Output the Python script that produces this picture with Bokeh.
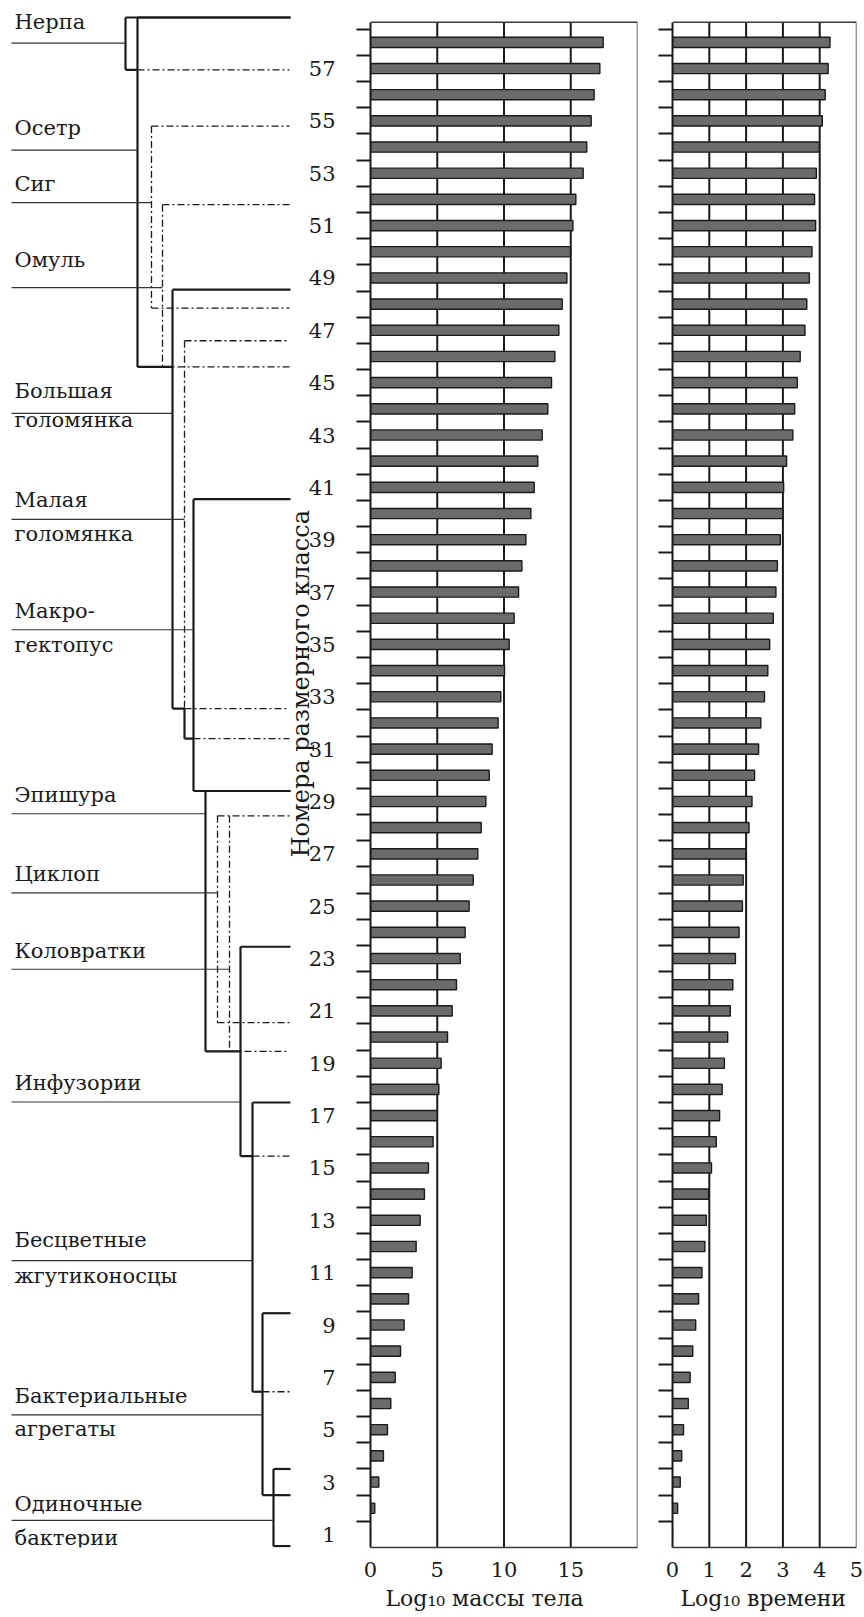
import math
from bokeh.plotting import figure
from bokeh.models import Range1d, FixedTicker, Title
from bokeh.layouts import row
from bokeh.embed import file_html
from bokeh.resources import INLINE
from bokeh.core.properties import value

# ---------------- data ----------------
size_classes = list(range(1, 59))
log_mass = [0.00, 0.32, 0.62, 0.97, 1.27, 1.52, 1.85, 2.25, 2.52, 2.85,
            3.12, 3.42, 3.72, 4.04, 4.34, 4.69, 4.99, 5.12, 5.29, 5.77,
            6.12, 6.44, 6.72, 7.09, 7.39, 7.69, 8.04, 8.29, 8.64, 8.89,
            9.11, 9.56, 9.76, 10.04, 10.39, 10.76, 11.09, 11.34, 11.64, 12.01,
            12.26, 12.53, 12.86, 13.28, 13.56, 13.81, 14.11, 14.36, 14.71, 14.98,
            15.16, 15.38, 15.93, 16.20, 16.53, 16.75, 17.18, 17.43]
log_time = [0.00, 0.14, 0.21, 0.25, 0.30, 0.43, 0.48, 0.55, 0.63, 0.71,
            0.80, 0.88, 0.92, 0.98, 1.06, 1.19, 1.28, 1.35, 1.41, 1.50,
            1.57, 1.64, 1.71, 1.81, 1.90, 1.92, 1.99, 2.08, 2.16, 2.23,
            2.34, 2.40, 2.50, 2.59, 2.64, 2.74, 2.81, 2.85, 2.93, 3.00,
            3.02, 3.10, 3.27, 3.32, 3.39, 3.47, 3.60, 3.65, 3.72, 3.79,
            3.89, 3.86, 3.91, 3.99, 4.07, 4.15, 4.23, 4.28]
class_labels = list(range(1, 58, 2))
mass_ticks = [0, 5, 10, 15]
time_ticks = [0, 1, 2, 3, 4, 5]
mass_grid = [5, 10, 15]
time_grid = [1, 2, 3, 4]

organism_line1 = ["Нерпа", "Осетр", "Сиг", "Омуль", "Большая", "Малая", "Макро-",
                  "Эпишура", "Циклоп", "Коловратки", "Инфузории", "Бесцветные",
                  "Бактериальные", "Одиночные"]
organism_line2 = ["", "", "", "", "голомянка", "голомянка", "гектопус",
                  "", "", "", "", "жгутиконосцы", "агрегаты", "бактерии"]
# size-class range of each organism (upper and lower bound, in class units)
class_top = [58.95, 58.95, 54.8, 51.8, 48.55, 46.6, 40.55,
             29.4, 28.45, 28.45, 23.45, 17.5, 9.45, 3.5]
class_bottom = [56.95, 45.6, 47.85, 45.6, 32.55, 31.4, 29.4,
                19.45, 20.55, 19.45, 15.45, 6.45, 2.5, 0.55]

mass_title = "Log₁₀ массы тела"
time_title = "Log₁₀ времени"
y_title = "Номера размерного класса"

# ---------------- layout / style ----------------
H = 1617
PANEL_TOP_PX = 21.7          # where the panel box starts (canvas px)
FRAME_BOTTOM = 1547
BOTTOM_BORDER = H - FRAME_BOTTOM
Y0, Y1 = 0.5, 58.77
PPC = (FRAME_BOTTOM - PANEL_TOP_PX) / (Y1 - Y0)
YTOP = Y1 + PANEL_TOP_PX / PPC
L_W = 350
FONT = "DejaVu Serif"
INK = "#1a1a1a"
BOX = "#3a3a3a"

bracket_x = [125, 137, 151, 162, 172, 184, 193, 205, 217, 229, 240, 252, 262, 273]
label_pos = [57.97, 53.88, 51.88, 48.63, 43.83, 39.78, 35.56,
             28.53, 25.51, 22.59, 17.52, 11.46, 5.57, 1.54]
# pixel distance of the first text line above / second line below the leader line
above_px = [21.5, 22.5, 18.5, 27.5, 22.5, 19.5, 18.5, 18.5, 18.5, 18.5, 18.5, 20.5, 18.5, 16.5]
below_px = [0, 0, 0, 0, 7, 14.5, 15.5, 0, 0, 0, 0, 15.5, 14.5, 18]
links = {0: 1, 1: 4, 4: 5, 5: 6, 7: 10, 10: 11, 11: 12}
dashed_set = {2, 3, 5, 8, 9}
solid_bottom = {6, 12, 13}
LEAD_X = 11
TEXT_X = 14
LINE_END = 290
DASH_END = 289
NUM_X = 335
YT_X, YT_Y = 300, 33.5

y_range = Range1d(Y0, YTOP)

# ---------------- left figure: dendrogram & labels ----------------
pl = figure(width=L_W, height=H, x_range=Range1d(0, L_W), y_range=y_range,
            x_axis_location=None, y_axis_location=None, toolbar_location=None,
            output_backend="svg", min_border_left=0, min_border_right=0,
            min_border_top=0, min_border_bottom=BOTTOM_BORDER, outline_line_color=None)
pl.xgrid.visible = False
pl.ygrid.visible = False

solid = ([], [], [], [])
dash = ([], [], [], [])


def add(seg, x0, y0, x1, y1):
    seg[0].append(x0); seg[1].append(y0); seg[2].append(x1); seg[3].append(y1)


incoming = {j: class_bottom[i] for i, j in links.items()}
dash_h = {}
for i in range(len(organism_line1)):
    x = bracket_x[i]
    top, bot = class_top[i], class_bottom[i]
    if i in dashed_set:
        if i in incoming:
            add(dash, x, top, x, incoming[i])
            add(solid, x, incoming[i], x, bot)
        else:
            add(dash, x, top, x, bot)
        dash_h[top] = min(dash_h.get(top, 1e9), x)
    else:
        add(solid, x, top, x, bot)
        add(solid, x, top, LINE_END, top)
    start = x
    if i in links:
        xj = bracket_x[links[i]]
        add(solid, x, bot, xj, bot)
        start = xj
    if i in solid_bottom:
        add(solid, start, bot, LINE_END, bot)
    else:
        dash_h[bot] = min(dash_h.get(bot, 1e9), start)
for y, x0 in dash_h.items():
    add(dash, x0, y, DASH_END, y)

pl.segment(x0=dash[0], y0=dash[1], x1=dash[2], y1=dash[3],
           line_color=INK, line_width=1.3, line_dash="7 3 2 3")
pl.segment(x0=solid[0], y0=solid[1], x1=solid[2], y1=solid[3],
           line_color=INK, line_width=2.2)
pl.segment(x0=[LEAD_X] * len(label_pos), y0=label_pos, x1=bracket_x, y1=label_pos,
           line_color="#333333", line_width=1.2)
pl.text(x=[TEXT_X] * len(label_pos),
        y=[v + a / PPC for v, a in zip(label_pos, above_px)], text=organism_line1,
        text_font=value(FONT), text_font_size=value("21px"), text_color=INK,
        text_align="left", text_baseline="middle")
pl.text(x=[TEXT_X] * len(label_pos),
        y=[v - b / PPC for v, b in zip(label_pos, below_px)], text=organism_line2,
        text_font=value(FONT), text_font_size=value("21px"), text_color=INK,
        text_align="left", text_baseline="middle")
pl.text(x=[NUM_X] * len(class_labels), y=class_labels, text=[str(c) for c in class_labels],
        text_font=value(FONT), text_font_size=value("21px"), text_color=INK,
        text_align="right", text_baseline="middle")
pl.text(x=[YT_X], y=[YT_Y], text=[y_title], angle=math.pi / 2,
        text_font=value(FONT), text_font_size=value("24px"), text_color=INK,
        text_align="center", text_baseline="middle")


# ---------------- bar panels ----------------
def panel(width, xmax, vals, ticks, grid_ticks, title, title_offset, right_border):
    p = figure(width=width, height=H, x_range=Range1d(0, xmax), y_range=y_range,
               toolbar_location=None, output_backend="svg",
               min_border_left=20, min_border_right=right_border,
               min_border_top=0, min_border_bottom=BOTTOM_BORDER,
               outline_line_color=None)
    p.xgrid.visible = False
    p.ygrid.visible = False
    p.segment(x0=grid_ticks, y0=[Y0] * len(grid_ticks), x1=grid_ticks, y1=[Y1] * len(grid_ticks),
              line_color=INK, line_width=2)
    p.segment(x0=[0, xmax], y0=[Y1, Y0], x1=[xmax, xmax], y1=[Y1, Y1],
              line_color=BOX, line_width=1.5)
    p.hbar(y=size_classes, left=0, right=vals, height=0.39,
           fill_color="#6a6b6d", line_color=INK, line_width=1.4)
    ya = p.yaxis[0]
    ya.bounds = (Y0, Y1)
    ya.ticker = FixedTicker(ticks=[c + 0.5 for c in size_classes])
    ya.major_tick_out = 14
    ya.major_tick_in = 0
    ya.minor_tick_out = 0
    ya.minor_tick_in = 0
    ya.major_tick_line_width = 2
    ya.major_tick_line_color = INK
    ya.axis_line_width = 2
    ya.axis_line_color = INK
    ya.major_label_text_color = None
    ya.major_label_text_font_size = "1px"
    ya.major_label_standoff = 0
    xa = p.xaxis[0]
    xa.ticker = FixedTicker(ticks=ticks)
    xa.major_tick_out = 0
    xa.major_tick_in = 0
    xa.minor_tick_out = 0
    xa.minor_tick_in = 0
    xa.axis_line_color = BOX
    xa.axis_line_width = 1.5
    xa.major_label_text_font = FONT
    xa.major_label_text_font_size = "21px"
    xa.major_label_text_color = INK
    xa.major_label_standoff = 14
    p.add_layout(Title(text=title, align="left", offset=title_offset, standoff=8,
                       text_font=FONT, text_font_size="22px", text_font_style="normal",
                       text_color=INK), "below")
    return p


pm = panel(302, 20, log_mass, mass_ticks, mass_grid, mass_title, 15, 15)
pr = panel(212, 5, log_time, time_ticks, time_grid, time_title, 8, 8)

layout = row(pl, pm, pr)
open("out.html", "w").write(file_html(layout, INLINE))
